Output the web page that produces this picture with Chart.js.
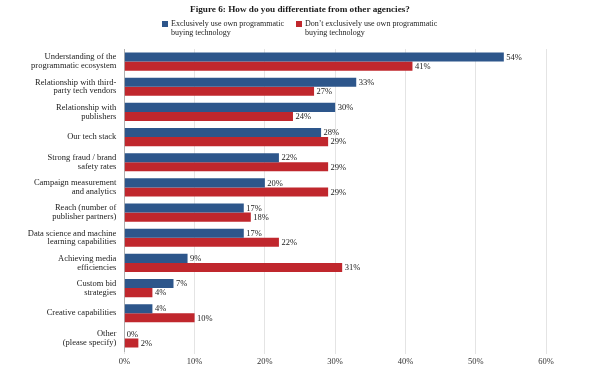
<!DOCTYPE html>
<html>
<head>
<meta charset="utf-8">
<script src="https://cdn.jsdelivr.net/npm/chart.js@4"></script>
<style>
  html, body { margin:0; padding:0; background:#fff; }
  #wrap { position:relative; width:600px; height:372px; overflow:hidden; font-family:"Liberation Serif", serif; color:#333; }
  #title { position:absolute; left:0; width:600px; top:4px; text-align:center; font-weight:bold; font-size:9.2px; color:#1a1a1a; }
  .leg { position:absolute; top:19px; font-size:8px; line-height:9px; color:#222; }
  .sw { position:absolute; width:6px; height:6px; top:2px; left:-9px; }
  canvas { position:absolute; left:0; top:0; }
</style>
</head>
<body>
<div id="wrap">
  <canvas id="c" width="600" height="372"></canvas>
  <div id="title">Figure 6: How do you differentiate from other agencies?</div>
  <div class="leg" id="leg1" style="left:171px"><span class="sw" style="background:#2d568b"></span>Exclusively use own programmatic<br>buying technology</div>
  <div class="leg" id="leg2" style="left:305px"><span class="sw" style="background:#c0272d"></span>Don’t exclusively use own programmatic<br>buying technology</div>
</div>
<script>
const categories = [
  ["Understanding of the", "programmatic ecosystem"],
  ["Relationship with third-", "party tech vendors"],
  ["Relationship with", "publishers"],
  ["Our tech stack"],
  ["Strong fraud / brand", "safety rates"],
  ["Campaign measurement", "and analytics"],
  ["Reach (number of", "publisher partners)"],
  ["Data science and machine", "learning capabilities"],
  ["Achieving media", "efficiencies"],
  ["Custom bid", "strategies"],
  ["Creative capabilities"],
  ["Other", "(please specify)"]
];
const seriesNames = ["Exclusively use own programmatic buying technology", "Don’t exclusively use own programmatic buying technology"];
const exclusiveValues = [54, 33, 30, 28, 22, 20, 17, 17, 9, 7, 4, 0];
const notExclusiveValues = [41, 27, 24, 29, 29, 29, 18, 22, 31, 4, 10, 2];
const xTicks = [0, 10, 20, 30, 40, 50, 60];

const FONT = "Liberation Serif";

const valueLabels = {
  id: 'valueLabels',
  afterDatasetsDraw(chart) {
    const ctx = chart.ctx;
    ctx.save();
    ctx.font = '8.5px "' + FONT + '"';
    ctx.fillStyle = '#222';
    ctx.textBaseline = 'middle';
    ctx.textAlign = 'left';
    chart.data.datasets.forEach((ds, i) => {
      const meta = chart.getDatasetMeta(i);
      meta.data.forEach((el, j) => {
        ctx.fillText(ds.data[j] + '%', el.x + 2.5, el.y + 0.5);
      });
    });
    ctx.restore();
  }
};

new Chart(document.getElementById('c'), {
  type: 'bar',
  data: {
    labels: categories,
    datasets: [
      { label: seriesNames[0], data: exclusiveValues, backgroundColor: '#2d568b', borderWidth: 0, barPercentage: 1, categoryPercentage: 0.72 },
      { label: seriesNames[1], data: notExclusiveValues, backgroundColor: '#c0272d', borderWidth: 0, barPercentage: 1, categoryPercentage: 0.72 }
    ]
  },
  options: {
    indexAxis: 'y',
    responsive: false,
    animation: false,
    events: [],
    layout: { padding: { top: 49, right: 54, bottom: 0, left: 0 } },
    plugins: { legend: { display: false }, title: { display: false }, tooltip: { enabled: false } },
    scales: {
      x: {
        min: 0, max: 60,
        afterBuildTicks(scale) { scale.ticks = xTicks.map(v => ({ value: v })); },
        afterFit(scale) { scale.height = 21; },
        grid: { color: '#e4e4e4', lineWidth: 1, tickLength: 3, drawTicks: true },
        border: { display: false },
        ticks: { padding: 3, color: '#333', font: { family: FONT, size: 8.5 }, callback: v => v + '%', maxRotation: 0 }
      },
      y: {
        afterFit(scale) { scale.width = 124.3; },
        grid: { display: false },
        border: { display: true, color: '#b0b0b0', width: 1 },
        ticks: { padding: 0, color: '#222', font: { family: FONT, size: 8.5, lineHeight: 1.05 }, crossAlign: 'near' }
      }
    }
  },
  plugins: [valueLabels]
});
</script>
</body>
</html>
